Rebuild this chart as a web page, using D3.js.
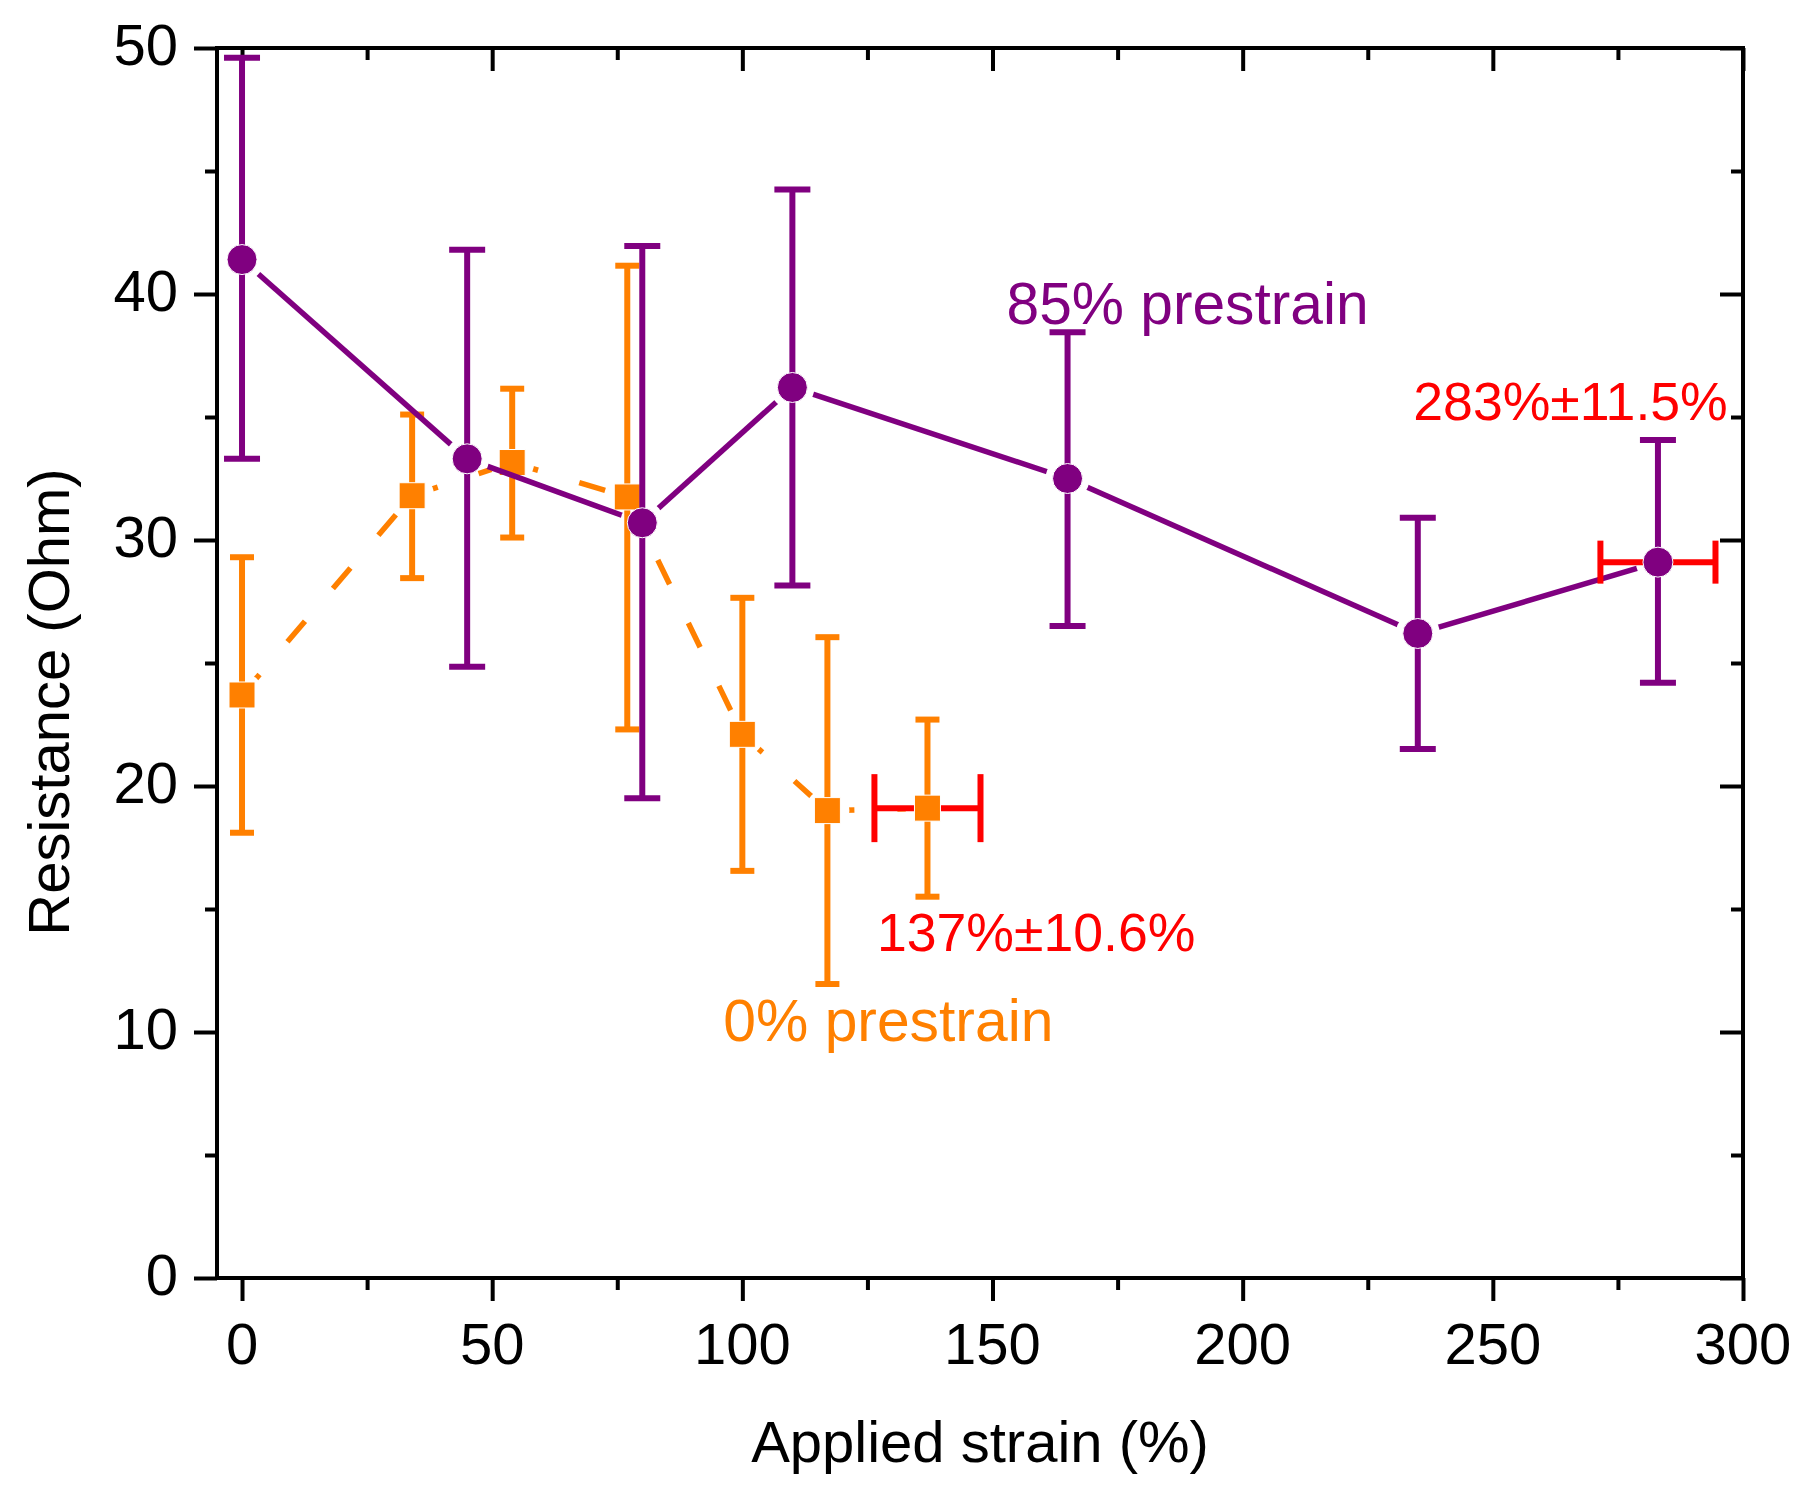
<!DOCTYPE html>
<html>
<head>
<meta charset="utf-8">
<script src="https://cdn.jsdelivr.net/npm/d3@7"></script>
<style>
  html, body { margin: 0; padding: 0; background: #fff; }
  svg { display: block; }
  text { font-family: "Liberation Sans", Arial, sans-serif; }
</style>
</head>
<body>
<svg id="chart" width="1800" height="1485"></svg>
<script>
// ---------------- data ----------------
const xTickValues = [0, 50, 100, 150, 200, 250, 300];
const xMinorTicks = [25, 75, 125, 175, 225, 275];
const yTickValues = [0, 10, 20, 30, 40, 50];
const yMinorTicks = [5, 15, 25, 35, 45];

// 85% prestrain series
const purpleX     = [0, 45, 80, 110, 165, 235, 283];
const purpleY     = [41.4, 33.3, 30.7, 36.2, 32.5, 26.2, 29.1];
const purpleErrHi = [49.6, 41.8, 41.95, 44.25, 38.45, 30.9, 34.07];
const purpleErrLo = [33.3, 24.85, 19.5, 28.15, 26.5, 21.5, 24.2];

// 0% prestrain series
const orangeX     = [0, 34, 54, 77, 100, 117, 137];
const orangeY     = [23.7, 31.8, 33.15, 31.75, 22.1, 19.0, 19.1];
const orangeErrHi = [29.3, 35.1, 36.15, 41.15, 27.65, 26.05, 22.7];
const orangeErrLo = [18.1, 28.45, 30.1, 22.3, 16.55, 11.95, 15.5];

// horizontal (strain) error of the last points
const purpleLastXErr = 11.5;
const orangeLastXErr = 10.6;

const labelTexts = ["85% prestrain", "0% prestrain", "283%±11.5%", "137%±10.6%"];
const xTitle = "Applied strain (%)";
const yTitle = "Resistance (Ohm)";

// ---------------- drawing ----------------
const PURPLE = "#800080", ORANGE = "#ff8000", RED = "#ff0000";
const svg = d3.select("#chart");
const x = d3.scaleLinear().domain([-5, 300]).range([217, 1743]);
const y = d3.scaleLinear().domain([0, 50]).range([1278, 48]);

const defs = svg.append("defs");
function makeMask(id, xs, ys, r) {
  const m = defs.append("mask").attr("id", id)
    .attr("maskUnits", "userSpaceOnUse")
    .attr("x", 0).attr("y", 0).attr("width", 1800).attr("height", 1485);
  m.append("rect").attr("x", 0).attr("y", 0).attr("width", 1800).attr("height", 1485).attr("fill", "#fff");
  xs.forEach((v, i) => m.append("circle").attr("cx", x(v)).attr("cy", y(ys[i])).attr("r", r).attr("fill", "#000"));
}
makeMask("mPurple", purpleX, purpleY, 22);
makeMask("mOrange", orangeX, orangeY, 22);

// axes
const axisG = svg.append("g");
function styleAxis(g) {
  g.select(".domain").remove();
  g.selectAll(".tick line").attr("stroke", "#000").attr("stroke-width", 4);
  g.selectAll(".tick text").remove();
}
const plotBottom = y(0), plotTop = y(50), plotLeft = x(-5), plotRight = x(300);
axisG.append("g").attr("transform", `translate(0,${plotBottom})`)
  .call(d3.axisBottom(x).tickValues(xTickValues).tickSize(23)).call(styleAxis);
axisG.append("g").attr("transform", `translate(0,${plotBottom})`)
  .call(d3.axisBottom(x).tickValues(xMinorTicks).tickSize(12)).call(styleAxis);
axisG.append("g").attr("transform", `translate(0,${plotTop})`)
  .call(d3.axisBottom(x).tickValues(xTickValues).tickSize(23)).call(styleAxis);
axisG.append("g").attr("transform", `translate(0,${plotTop})`)
  .call(d3.axisBottom(x).tickValues(xMinorTicks).tickSize(12)).call(styleAxis);
axisG.append("g").attr("transform", `translate(${plotLeft},0)`)
  .call(d3.axisLeft(y).tickValues(yTickValues).tickSize(23)).call(styleAxis);
axisG.append("g").attr("transform", `translate(${plotLeft},0)`)
  .call(d3.axisLeft(y).tickValues(yMinorTicks).tickSize(12)).call(styleAxis);
axisG.append("g").attr("transform", `translate(${plotRight},0)`)
  .call(d3.axisLeft(y).tickValues(yTickValues).tickSize(23)).call(styleAxis);
axisG.append("g").attr("transform", `translate(${plotRight},0)`)
  .call(d3.axisLeft(y).tickValues(yMinorTicks).tickSize(12)).call(styleAxis);
axisG.append("rect").attr("x", plotLeft).attr("y", plotTop)
  .attr("width", plotRight - plotLeft).attr("height", plotBottom - plotTop)
  .attr("fill", "none").attr("stroke", "#000").attr("stroke-width", 4);

// tick labels
axisG.selectAll("text.xl").data(xTickValues).join("text").attr("class", "xl")
  .attr("x", d => x(d)).attr("y", plotBottom + 86).attr("text-anchor", "middle")
  .attr("font-size", 58).attr("fill", "#000").text(d => d);
axisG.selectAll("text.yl").data(yTickValues).join("text").attr("class", "yl")
  .attr("x", plotLeft - 39).attr("y", d => y(d) + 17).attr("text-anchor", "end")
  .attr("font-size", 58).attr("fill", "#000").text(d => d);

// axis titles
svg.append("text").attr("x", (plotLeft + plotRight) / 2).attr("y", 1462).attr("text-anchor", "middle")
  .attr("font-size", 58).attr("fill", "#000").text(xTitle);
svg.append("text").attr("transform", "translate(69,702) rotate(-90)").attr("text-anchor", "middle")
  .attr("font-size", 58).attr("fill", "#000").text(yTitle);

function drawSeries(xs, ys, hi, lo, color, dashed, maskId, capHalf, marker, xerr, xerrCapHalf) {
  const g = svg.append("g");
  // connecting line segments
  const lg = g.append("g").attr("mask", `url(#${maskId})`);
  for (let i = 0; i < xs.length - 1; i++) {
    const seg = lg.append("line")
      .attr("x1", x(xs[i])).attr("y1", y(ys[i]))
      .attr("x2", x(xs[i + 1])).attr("y2", y(ys[i + 1]))
      .attr("stroke", color).attr("stroke-width", 5.5);
    if (dashed) seg.attr("stroke-dasharray", "27,43");
  }
  // vertical error bars
  const eg = g.append("g").attr("stroke", color).attr("stroke-width", 6);
  xs.forEach((v, i) => {
    eg.append("line").attr("x1", x(v)).attr("x2", x(v)).attr("y1", y(hi[i])).attr("y2", y(lo[i]));
    eg.append("line").attr("x1", x(v) - capHalf).attr("x2", x(v) + capHalf).attr("y1", y(hi[i])).attr("y2", y(hi[i]));
    eg.append("line").attr("x1", x(v) - capHalf).attr("x2", x(v) + capHalf).attr("y1", y(lo[i])).attr("y2", y(lo[i]));
  });
  // horizontal error bar on the last point
  const n = xs.length - 1;
  const rg = g.append("g").attr("stroke", RED).attr("stroke-width", 6);
  const xl = x(xs[n] - xerr), xr = x(xs[n] + xerr), yy = y(ys[n]);
  rg.append("line").attr("x1", xl).attr("x2", xr).attr("y1", yy).attr("y2", yy);
  rg.append("line").attr("x1", xl).attr("x2", xl).attr("y1", yy - xerrCapHalf).attr("y2", yy + xerrCapHalf);
  rg.append("line").attr("x1", xr).attr("x2", xr).attr("y1", yy - xerrCapHalf).attr("y2", yy + xerrCapHalf);
  // markers
  if (marker === "circle") {
    g.selectAll("circle.m").data(xs).join("circle").attr("class", "m")
      .attr("cx", d => x(d)).attr("cy", (d, i) => y(ys[i])).attr("r", 15)
      .attr("fill", color).attr("stroke", "#fff").attr("stroke-width", 1);
  } else {
    g.selectAll("rect.m").data(xs).join("rect").attr("class", "m")
      .attr("x", d => x(d) - 13).attr("y", (d, i) => y(ys[i]) - 13)
      .attr("width", 26).attr("height", 26)
      .attr("fill", color).attr("stroke", "#fff").attr("stroke-width", 1);
  }
}

drawSeries(orangeX, orangeY, orangeErrHi, orangeErrLo, ORANGE, true, "mOrange", 12, "square", orangeLastXErr, 34);
drawSeries(purpleX, purpleY, purpleErrHi, purpleErrLo, PURPLE, false, "mPurple", 18, "circle", purpleLastXErr, 21.5);

// annotations (placed in data coordinates)
const ann = [
  { t: labelTexts[0], xv: 152.8, yv: 38.78, c: PURPLE, s: 58.7 },
  { t: labelTexts[1], xv: 96.2,  yv: 9.64,  c: ORANGE, s: 58.8 },
  { t: labelTexts[2], xv: 234.1, yv: 34.88, c: RED,    s: 53.6 },
  { t: labelTexts[3], xv: 126.9, yv: 13.3,  c: RED,    s: 53.6 }
];
svg.selectAll("text.ann").data(ann).join("text").attr("class", "ann")
  .attr("x", d => x(d.xv)).attr("y", d => y(d.yv))
  .attr("font-size", d => d.s).attr("fill", d => d.c).text(d => d.t);
</script>
</body>
</html>
